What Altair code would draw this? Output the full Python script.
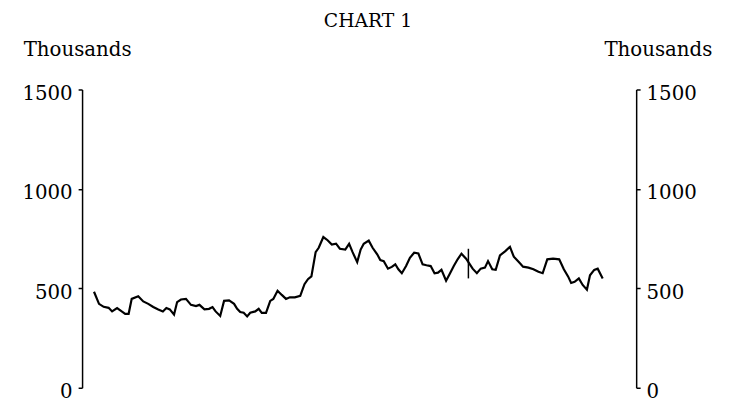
import altair as alt
import pandas as pd

# Time position (months from start of the horizontal range) and series value (thousands)
months = [3.1, 4.4, 5.6, 6.9, 7.8, 9.1, 10.3, 11.2, 12.1, 12.9, 14.6, 15.9, 17.2, 18.5,
          19.8, 21.0, 21.9, 22.8, 23.9, 24.7, 25.7, 27.0, 28.3, 29.6, 30.5, 31.8, 33.0,
          33.9, 34.7, 35.9, 36.9, 38.2, 39.5, 40.3, 41.1, 42.0, 42.9, 43.7, 45.0, 45.9,
          46.7, 47.8, 48.9, 49.7, 50.8, 51.9, 53.0, 54.0, 55.3, 56.7, 57.8, 58.7, 59.6,
          60.7, 61.5, 62.7, 63.8, 64.9, 66.0, 67.0, 68.4, 69.4, 70.3, 71.5, 72.4, 73.2,
          74.5, 75.5, 76.7, 77.5, 78.4, 79.5, 80.5, 81.4, 82.2, 83.1, 84.2, 85.2, 86.3,
          87.4, 88.5, 89.5, 90.6, 91.6, 92.5, 93.4, 94.6, 95.5, 96.6, 97.6, 98.6, 99.8,
          100.4, 101.5, 102.6, 103.6, 104.7, 105.5, 106.6, 107.5, 108.6, 110.0, 111.2,
          112.2, 113.5, 114.6, 116.0, 117.3, 118.6, 119.7, 120.9, 122.4, 124.0, 125.2,
          126.3, 127.1, 128.0, 129.1, 130.1, 131.2, 132.0, 133.1, 134.0, 135.3]
values = [483, 422, 407, 402, 384, 401, 384, 372, 372, 447, 460, 434, 422, 406,
          394, 384, 401, 394, 368, 431, 444, 447, 417, 411, 417, 394, 397,
          406, 384, 361, 437, 439, 422, 397, 381, 377, 359, 377, 384, 397,
          377, 377, 437, 447, 488, 467, 447, 455, 455, 462, 521, 546, 560,
          682, 704, 758, 742, 720, 725, 699, 695, 724, 682, 632, 695, 724,
          740, 704, 671, 642, 637, 599, 608, 621, 596, 576, 612, 654, 679,
          675, 621, 616, 612, 576, 579, 593, 538, 571, 612, 646, 674, 649,
          632, 599, 576, 599, 604, 637, 596, 593, 666, 687, 709,
          659, 632, 609, 604, 596, 583, 576, 646, 649, 646, 596,
          560, 527, 533, 550, 517, 493, 566, 593, 599, 550]

marker_month = [100.4]
marker_low = [550]
marker_high = [699]

y_ticks = [0, 500, 1000, 1500]
x_domain = [0, 144]
y_domain = [0, 1500]

series = pd.DataFrame({"month": months, "value": values})
marker = pd.DataFrame({"month": marker_month, "low": marker_low, "high": marker_high})

FONT = "DejaVu Serif"

def y_axis(orient, title_x):
    return alt.Axis(
        orient=orient, values=y_ticks, title="Thousands", titleAngle=0,
        titleAlign="center", titleBaseline="alphabetic", titleX=title_x, titleY=-34,
        titleFont=FONT, titleFontSize=20, titleFontWeight="normal", titleColor="black",
        labelFont=FONT, labelFontSize=20, labelColor="black", labelPadding=6,
        labelOffset=4, labelFlush=False, labelOverlap=False,
        tickSize=4, tickColor="black", tickWidth=1.5,
        domainColor="black", domainWidth=1.5, grid=False, format="d",
    )

x_enc = alt.X("month:Q", scale=alt.Scale(domain=x_domain, nice=False, zero=False), axis=None)

line = alt.Chart(series).mark_line(color="black", strokeWidth=2.2).encode(
    x=x_enc,
    y=alt.Y("value:Q", scale=alt.Scale(domain=y_domain, nice=False), axis=y_axis("left", -5)),
)

rule = alt.Chart(marker).mark_rule(color="black", strokeWidth=1.5).encode(
    x=x_enc,
    y=alt.Y("low:Q", scale=alt.Scale(domain=y_domain, nice=False), axis=y_axis("right", 22)),
    y2="high:Q",
)

chart = (
    alt.layer(line, rule)
    .resolve_scale(y="independent")
    .resolve_axis(y="independent")
    .properties(
        width=561, height=302,
        autosize=alt.AutoSizeParams(type="none"),
        padding={"left": 75, "top": 80, "right": 95, "bottom": 20},
        title=alt.TitleParams("CHART 1", anchor="middle", font=FONT, fontSize=19,
                              fontWeight="normal", color="black", dx=9, offset=9),
    )
    .configure(background="white")
    .configure_view(stroke="transparent", strokeWidth=0)
    .configure_axis(grid=False)
)

chart.save("out.html", embed_options={"renderer": "svg", "actions": False})
